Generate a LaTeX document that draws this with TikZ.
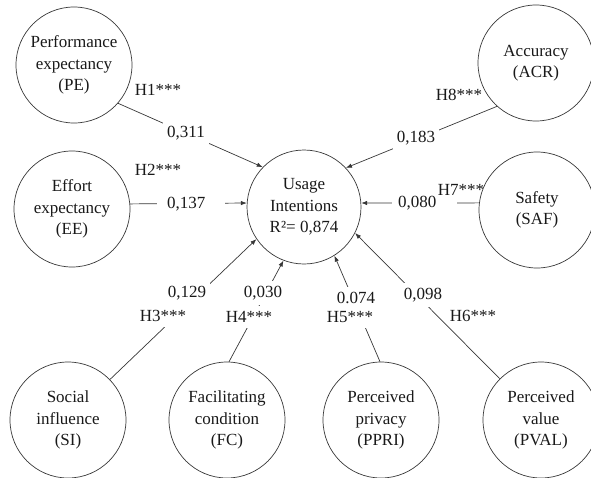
\documentclass[tikz,border=0pt]{standalone}
\usepackage{fontspec}
\setmainfont{Liberation Serif}
\usetikzlibrary{arrows.meta}
\usepackage{xcolor}
\definecolor{linegray}{RGB}{55,55,55}
\definecolor{textblack}{RGB}{25,25,25}
\newcommand{\diagfont}{\fontsize{17}{21.5}\selectfont}

\begin{document}
\begin{tikzpicture}[
  x=1pt, y=-1pt,
  latent/.style={circle, draw=linegray, minimum size=116pt, inner sep=0pt, align=center, font=\diagfont, text=textblack, line width=0.7pt},
  coef/.style={fill=white, inner xsep=4pt, inner ysep=5pt, font=\diagfont, text=textblack},
  hyp/.style={inner sep=0pt, font=\diagfont, text=textblack},
  arr/.style={-{Latex[length=6pt,width=4.5pt]}, draw=linegray, line width=0.7pt}
]
\useasboundingbox (0,0) rectangle (591,477);

% constructs
\node[latent] (pe) at (74,65) {Performance\\expectancy\\(PE)};
\node[latent] (ee) at (72,209) {Effort\\expectancy\\(EE)};
\node[latent, minimum size=114pt] (ui) at (304,207) {Usage\\Intentions\\R²= 0,874};
\node[latent] (acr) at (536,63) {Accuracy\\(ACR)};
\node[latent] (saf) at (537,210) {Safety\\(SAF)};
\node[latent] (si) at (68,420) {Social\\influence\\(SI)};
\node[latent] (fc) at (227,420) {Facilitating\\condition\\(FC)};
\node[latent] (ppri) at (381,420) {Perceived\\privacy\\(PPRI)};
\node[latent] (pval) at (541,420) {Perceived\\value\\(PVAL)};

% paths
\draw[arr] (pe.-41) -- (ui.136);
\draw[arr] (ee.5) -- (ui.176);
\draw[arr] (acr.228) -- (ui.43);
\draw[arr] (saf.173) -- (ui.4);
\draw[arr] (si.44) -- (ui.214);
\draw[arr] (fc.88) -- (ui.249);
\draw[arr] (ppri.91) -- (ui.302);
\draw[arr] (pval.135) -- (ui.333);

% coefficients and hypotheses
\node[coef] (c1) at (186,133) {0,311};
\node[hyp] (h1) at (158,90) {H1***};
\node[coef, text width=48pt, align=left, inner xsep=10pt, inner ysep=2pt] (c2) at (191,204) {0,137};
\node[hyp] (h2) at (158,170) {H2***};
\node[coef] (c8) at (416,138) {0,183};
\node[hyp] (h8) at (459,95) {H8***};
\node[coef, text width=53pt, align=left, inner xsep=6pt, inner ysep=2pt] (c7) at (424.5,203) {0,080};
\node[hyp] (h7) at (461,190) {H7***};
\node[coef] (c3) at (187,293) {0,129};
\node[coef] (h3) at (163,316) {H3***};
\node[coef] (c4) at (263,293) {0,030};
\node[coef] (h4) at (249,317) {H4***};
\node[coef] (c5) at (356,298) {0.074};
\node[coef] (h5) at (350,317) {H5***};
\node[coef] (c6) at (423,295) {0,098};
\node[hyp] (h6) at (473,316) {H6***};
\end{tikzpicture}
\end{document}
